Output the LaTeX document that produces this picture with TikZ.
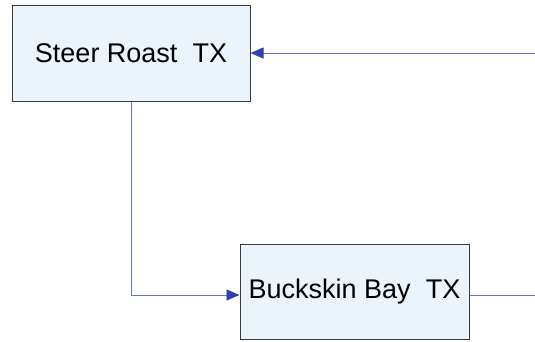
\documentclass[tikz,border=0pt]{standalone}
\usepackage{fontspec}
\setmainfont{Liberation Sans}
\usetikzlibrary{arrows.meta}
\definecolor{boxfill}{HTML}{EAF4FA}
\definecolor{boxline}{HTML}{3A3A3A}
\definecolor{wire}{HTML}{6676C4}
\definecolor{tipblue}{HTML}{3040B0}
\begin{document}
\begin{tikzpicture}[x=1pt,y=-1pt,
  station/.style={draw=boxline,line width=1pt,fill=boxfill,inner sep=0pt,
    font=\fontsize{27}{30}\selectfont},
  wireline/.style={draw=wire,line width=0.8pt},
  feed/.style={wireline,-{Triangle[length=13pt,width=11pt,color=tipblue]}}]
\useasboundingbox (0,0) rectangle (535,341);
\node[station,minimum width=238pt,minimum height=96pt] (steer) at (131,53) {Steer Roast\ \ TX};
\node[station,minimum width=229pt,minimum height=95pt] (buck) at (354.5,291.5) {Buckskin Bay\ \ TX};
\coordinate (inA) at (535,53);
\coordinate (outB) at (535,295);
\draw[feed] (inA) -- (steer.east);
\draw[feed] (steer.south) |- (buck.west |- 0,295);
\draw[wireline] (buck.east |- 0,295) -- (outB);
\end{tikzpicture}
\end{document}
